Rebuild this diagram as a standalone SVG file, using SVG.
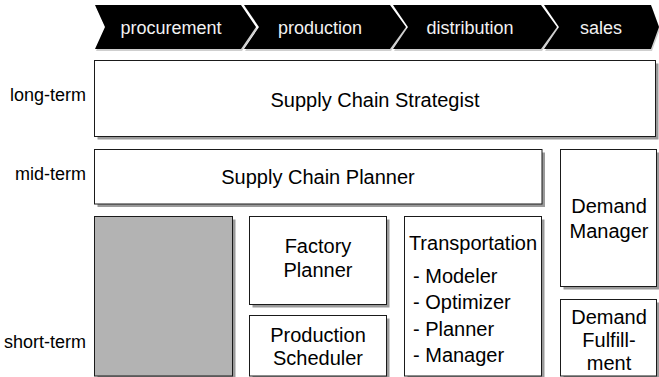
<svg xmlns="http://www.w3.org/2000/svg" width="659" height="377" viewBox="0 0 659 377">
<style>
  text { font-family: "Liberation Sans", Arial, sans-serif; }
  .chev { fill: #000; }
  .chevsh { fill: #cfcfcf; }
  .ctxt { font-size: 18px; fill: #f2f2f2; text-anchor: middle; }
  .box { fill: #fff; stroke: #1a1a1a; stroke-width: 1; }
  .gray { fill: #b3b3b3; stroke: #1a1a1a; stroke-width: 1; }
  .sh { fill: #9a9a9a; }
  .t { font-size: 20px; fill: #000; text-anchor: middle; }
  .tl { font-size: 20px; fill: #000; }
  .lbl { font-size: 18px; fill: #000; text-anchor: end; }
</style>

<g id="banner">
  <g transform="translate(1,2)">
    <polygon class="chevsh" points="95,5 241,5 256,27 241,49 95,49 105,27"/>
    <polygon class="chevsh" points="244,5 390,5 406,27 390,49 244,49 259,27"/>
    <polygon class="chevsh" points="393,5 541,5 557,27 541,49 393,49 408,27"/>
    <polygon class="chevsh" points="544,5 651,5 659,27 651,49 544,49 559,27"/>
  </g>
  <g id="procurement">
    <polygon class="chev" points="95,5 241,5 256,27 241,49 95,49 105,27"/>
    <text class="ctxt" x="171" y="34">procurement</text>
  </g>
  <g id="production">
    <polygon class="chev" points="244,5 390,5 406,27 390,49 244,49 259,27"/>
    <text class="ctxt" x="320" y="34">production</text>
  </g>
  <g id="distribution">
    <polygon class="chev" points="393,5 541,5 557,27 541,49 393,49 408,27"/>
    <text class="ctxt" x="470" y="34">distribution</text>
  </g>
  <g id="sales">
    <polygon class="chev" points="544,5 651,5 659,27 651,49 544,49 559,27"/>
    <text class="ctxt" x="601" y="34">sales</text>
  </g>
</g>

<g id="labels">
  <text class="lbl" x="86" y="101">long-term</text>
  <text class="lbl" x="86" y="180">mid-term</text>
  <text class="lbl" x="86" y="348">short-term</text>
</g>

<g id="connectors"></g>

<g id="strategist">
  <rect class="sh" x="97.5" y="63.5" width="561" height="76"/>
  <rect class="box" x="94.5" y="60.5" width="561" height="76"/>
  <text class="t" x="375" y="107">Supply Chain Strategist</text>
</g>

<g id="planner">
  <rect class="sh" x="97.5" y="152.5" width="447.5" height="54.5"/>
  <rect class="box" x="94.5" y="149.5" width="447.5" height="54.5"/>
  <text class="t" x="318" y="184">Supply Chain Planner</text>
</g>

<g id="demand-manager">
  <rect class="sh" x="563.5" y="152.5" width="96" height="137"/>
  <rect class="box" x="560.5" y="149.5" width="96" height="137"/>
  <text class="t" x="609" y="213">Demand</text>
  <text class="t" x="609" y="238">Manager</text>
</g>

<g id="procurement-short">
  <rect class="sh" x="97.5" y="219.5" width="138" height="160"/>
  <rect class="gray" x="94.5" y="216.5" width="138" height="159.5"/>
</g>

<g id="factory-planner">
  <rect class="sh" x="252.5" y="219.5" width="137" height="88"/>
  <rect class="box" x="249.5" y="216.5" width="137" height="88"/>
  <text class="t" x="318" y="253">Factory</text>
  <text class="t" x="318" y="277">Planner</text>
</g>

<g id="production-scheduler">
  <rect class="sh" x="252.5" y="318.5" width="137" height="62"/>
  <rect class="box" x="249.5" y="315.5" width="137" height="60.5"/>
  <text class="t" x="318" y="342">Production</text>
  <text class="t" x="318" y="365">Scheduler</text>
</g>

<g id="transportation">
  <rect class="sh" x="407.5" y="219.5" width="137" height="160"/>
  <rect class="box" x="404.5" y="216.5" width="137" height="159.5"/>
  <text class="t" x="473" y="250">Transportation</text>
  <text class="tl" x="413" y="283">- Modeler</text>
  <text class="tl" x="413" y="309">- Optimizer</text>
  <text class="tl" x="413" y="336">- Planner</text>
  <text class="tl" x="413" y="362">- Manager</text>
</g>

<g id="demand-fulfillment">
  <rect class="sh" x="563.5" y="302.5" width="96" height="78"/>
  <rect class="box" x="560.5" y="299.5" width="96" height="76.5"/>
  <text class="t" x="609" y="324">Demand</text>
  <text class="t" x="609" y="347">Fulfill-</text>
  <text class="t" x="609" y="370">ment</text>
</g>
</svg>
